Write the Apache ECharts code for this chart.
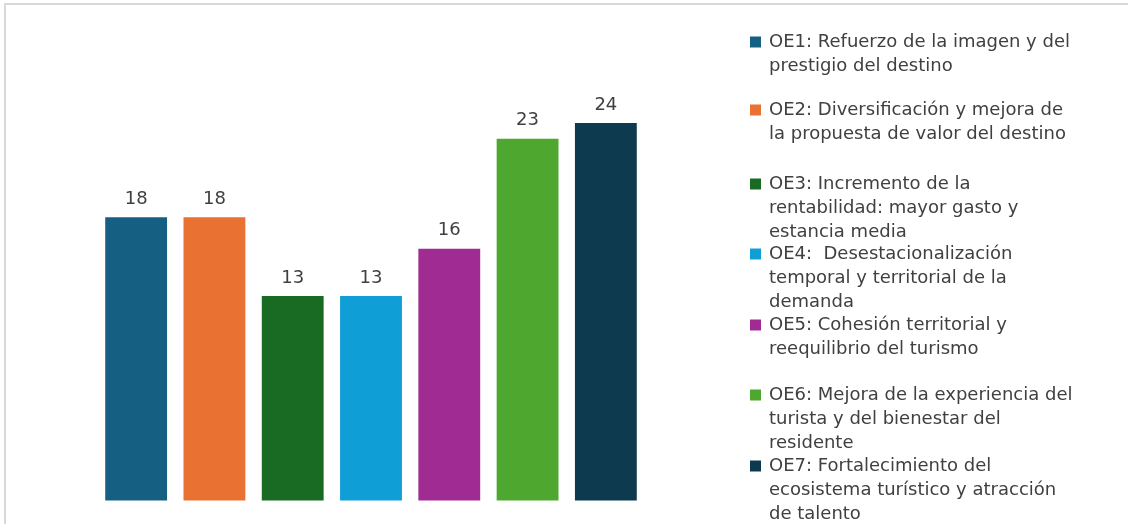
<!DOCTYPE html>
<html>
<head>
<meta charset="utf-8">
<script src="https://cdn.jsdelivr.net/npm/echarts@6/dist/echarts.min.js"></script>
<style>
  html, body { margin: 0; padding: 0; background: #fff; overflow: hidden; }
  #chart { width: 1128px; height: 524px; }
  #frame { position: absolute; left: 4px; top: 3px; width: 1124px; height: 521px;
           border-top: 2px solid #d9d9d9; border-left: 2px solid #d9d9d9; pointer-events: none; box-sizing: border-box; }
</style>
</head>
<body>
<div id="chart"></div>
<div id="frame"></div>
<script>
// ---- data ----
const categories = [
  "OE1: Refuerzo de la imagen y del prestigio del destino",
  "OE2: Diversificación y mejora de la propuesta de valor del destino",
  "OE3: Incremento de la rentabilidad: mayor gasto y estancia media",
  "OE4:  Desestacionalización temporal y territorial de la demanda",
  "OE5: Cohesión territorial y reequilibrio del turismo",
  "OE6: Mejora de la experiencia del turista y del bienestar del residente",
  "OE7: Fortalecimiento del ecosistema turístico y atracción de talento"
];
const values = [18, 18, 13, 13, 16, 23, 24];
const legendLines = [
  ["OE1: Refuerzo de la imagen y del", "prestigio del destino"],
  ["OE2: Diversificación y mejora de", "la propuesta de valor del destino"],
  ["OE3: Incremento de la", "rentabilidad: mayor gasto y", "estancia media"],
  ["OE4:  Desestacionalización", "temporal y territorial de la", "demanda"],
  ["OE5: Cohesión territorial y", "reequilibrio del turismo"],
  ["OE6: Mejora de la experiencia del", "turista y del bienestar del", "residente"],
  ["OE7: Fortalecimiento del", "ecosistema turístico y atracción", "de talento"]
];
const colors = ["#156082", "#E97132", "#196B24", "#0F9ED5", "#A02B93", "#4EA72E", "#0E3A50"];

// ---- layout ----
const FONT = "DejaVu Sans";
const LH = 24;
const FS = 18;
const firstLineCenters = [42, 110, 184, 254, 325, 395, 466];

const series = categories.map((name, i) => ({
  name: name,
  type: 'bar',
  stack: 'all',
  barCategoryGap: '21%',
  data: values.map((v, j) => (j === i ? v : null)),
  itemStyle: { color: colors[i] },
  label: {
    show: true,
    position: 'top',
    distance: 9,
    fontFamily: FONT,
    fontSize: FS,
    color: '#404040'
  }
}));

const legends = categories.map((name, i) => {
  const n = legendLines[i].length;
  const padH = (n - 1) * LH;
  return {
    data: [name],
    left: 750,
    top: firstLineCenters[i] - (2 * n - 1) * LH / 2,
    orient: 'vertical',
    padding: 0,
    itemWidth: 11,
    itemHeight: 11,
    itemGap: 0,
    icon: 'rect',
    selectedMode: false,
    formatter: () => '{pad| }\n' + legendLines[i].map(s => '{t|' + s + '}').join('\n'),
    textStyle: {
      fontFamily: FONT,
      fontSize: FS,
      color: '#404040',
      padding: [0, 0, 0, 3],
      rich: {
        pad: { height: padH, lineHeight: padH, fontSize: 2 },
        t: { fontFamily: FONT, fontSize: FS, color: '#404040', lineHeight: LH, height: LH }
      }
    }
  };
});

const chart = echarts.init(document.getElementById('chart'));
chart.setOption({
  animation: false,
  backgroundColor: '#ffffff',
  legend: legends,
  grid: { left: 97, right: 483, top: 28.5, bottom: 23.5 },
  xAxis: {
    type: 'category',
    data: categories,
    show: false
  },
  yAxis: {
    type: 'value',
    min: 0,
    max: 30,
    show: false
  },
  series: series
});
</script>
</body>
</html>
